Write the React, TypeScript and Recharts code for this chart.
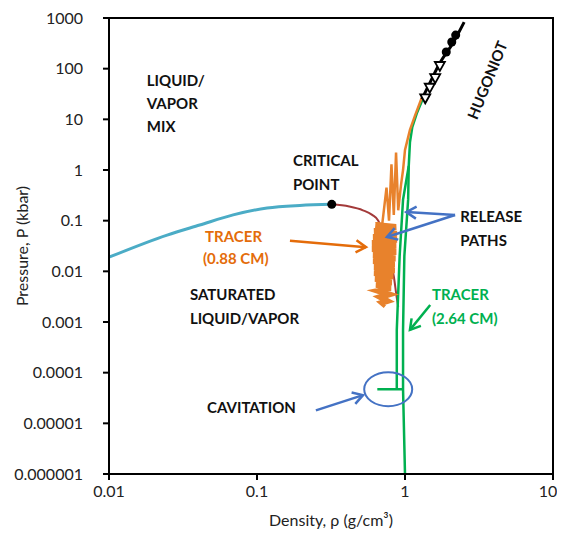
import React from 'react'
import {
  ComposedChart,
  CartesianGrid,
  Line,
  Scatter,
  XAxis,
  YAxis,
  ReferenceDot,
  ReferenceLine,
} from 'recharts'

const FONT = 'Lato, "Liberation Sans", sans-serif'
const PLOT_TOP = 10

const xTicks = [0.01, 0.1, 1, 10]
const xTickLabels = ['0.01', '0.1', '1', '10']
const yTicks = [0.000001, 0.00001, 0.0001, 0.001, 0.01, 0.1, 1, 10, 100, 1000]
const yTickLabels = ['0.000001', '0.00001', '0.0001', '0.001', '0.01', '0.1', '1', '10', '100', '1000']

// saturation dome (vapor side in blue, liquid side in red)
const vaporBranch = [
  { rho: 0.01, p: 0.019 },
  { rho: 0.0247, p: 0.052 },
  { rho: 0.041, p: 0.082 },
  { rho: 0.069, p: 0.13 },
  { rho: 0.117, p: 0.178 },
  { rho: 0.195, p: 0.2 },
  { rho: 0.32, p: 0.21 },
]
const liquidBranch = [
  { rho: 0.32, p: 0.21 },
  { rho: 0.42, p: 0.19 },
  { rho: 0.52, p: 0.16 },
  { rho: 0.6, p: 0.13 },
  { rho: 0.66, p: 0.1 },
  { rho: 0.72, p: 0.05 },
  { rho: 0.78, p: 0.02 },
  { rho: 0.84, p: 0.008 },
  { rho: 0.88, p: 0.003 },
  { rho: 0.9, p: 0.002 },
]
const criticalPoint = [{ rho: 0.32, p: 0.21 }]

// hugoniot
const hugoniotLine = [
  { rho: 1.3, p: 25 },
  { rho: 1.47, p: 52 },
  { rho: 1.72, p: 129 },
  { rho: 2.11, p: 321 },
  { rho: 2.51, p: 830 },
]
const hugoniotTriangles = [
  { rho: 1.37, p: 26 },
  { rho: 1.47, p: 42 },
  { rho: 1.6, p: 65 },
  { rho: 1.72, p: 113 },
]
const hugoniotDots = [
  { rho: 1.9, p: 213 },
  { rho: 2.07, p: 336 },
  { rho: 2.2, p: 460 },
]

// tracer at 0.88 cm
const tracerOrange = [
  { rho: 1.3, p: 27 },
  { rho: 1.17, p: 12 },
  { rho: 1.08, p: 6.2 },
  { rho: 1.0, p: 2.5 },
  { rho: 0.97, p: 1.0 },
  { rho: 0.94, p: 0.51 },
  { rho: 0.9, p: 0.16 },
  { rho: 0.87, p: 2.2 },
  { rho: 0.84, p: 0.13 },
  { rho: 0.81, p: 1.3 },
  { rho: 0.78, p: 0.1 },
  { rho: 0.75, p: 0.45 },
  { rho: 0.7, p: 0.08 },
]
const tracerOrangeBlob = [
  { rho: 0.7, p: 0.08 },
  { rho: 0.63, p: 0.082 },
  { rho: 0.87, p: 0.075 },
  { rho: 0.62, p: 0.0626 },
  { rho: 0.88, p: 0.055 },
  { rho: 0.61, p: 0.0476 },
  { rho: 0.88, p: 0.042 },
  { rho: 0.6, p: 0.0362 },
  { rho: 0.87, p: 0.032 },
  { rho: 0.6, p: 0.0276 },
  { rho: 0.87, p: 0.024 },
  { rho: 0.61, p: 0.021 },
  { rho: 0.86, p: 0.018 },
  { rho: 0.61, p: 0.016 },
  { rho: 0.85, p: 0.014 },
  { rho: 0.62, p: 0.0122 },
  { rho: 0.85, p: 0.0105 },
  { rho: 0.62, p: 0.0093 },
  { rho: 0.83, p: 0.008 },
  { rho: 0.63, p: 0.0071 },
  { rho: 0.81, p: 0.006 },
  { rho: 0.64, p: 0.0054 },
  { rho: 0.8, p: 0.0046 },
  { rho: 0.66, p: 0.0041 },
  { rho: 0.78, p: 0.0035 },
  { rho: 0.68, p: 0.0031 },
  { rho: 0.76, p: 0.0026 },
  { rho: 0.7, p: 0.0024 },
  { rho: 0.74, p: 0.0021 },
]

// tracer at 2.64 cm
const tracerGreenA = [
  { rho: 1.35, p: 30 },
  { rho: 1.2, p: 13 },
  { rho: 1.12, p: 7 },
  { rho: 1.08, p: 3.5 },
  { rho: 1.06, p: 1.2 },
  { rho: 1.05, p: 0.26 },
  { rho: 0.99, p: 0.02 },
  { rho: 0.97, p: 0.0007 },
  { rho: 0.97, p: 0.000047 },
  { rho: 1.0, p: 0.000001 },
]
const tracerGreenB = [
  { rho: 1.06, p: 1.2 },
  { rho: 0.97, p: 0.26 },
  { rho: 0.92, p: 0.02 },
  { rho: 0.88, p: 0.0007 },
  { rho: 0.88, p: 0.000047 },
  { rho: 0.65, p: 0.000047 },
  { rho: 0.97, p: 0.000047 },
]

const labels = [
  { text: 'LIQUID/', rho: 0.018, p: 60, color: '#111' },
  { text: 'VAPOR', rho: 0.018, p: 21, color: '#111' },
  { text: 'MIX', rho: 0.018, p: 7.4, color: '#111' },
  { text: 'CRITICAL', rho: 0.175, p: 1.58, color: '#111' },
  { text: 'POINT', rho: 0.175, p: 0.53, color: '#111' },
  { text: 'TRACER', rho: 0.0446, p: 0.05, color: '#E46C0A' },
  { text: '(0.88 CM)', rho: 0.0431, p: 0.0183, color: '#E46C0A' },
  { text: 'RELEASE', rho: 2.36, p: 0.124, color: '#111' },
  { text: 'PATHS', rho: 2.36, p: 0.0416, color: '#111' },
  { text: 'SATURATED', rho: 0.0352, p: 0.00357, color: '#111' },
  { text: 'LIQUID/VAPOR', rho: 0.0352, p: 0.0012, color: '#111' },
  { text: 'TRACER', rho: 1.52, p: 0.00357, color: '#00B050' },
  { text: '(2.64 CM)', rho: 1.52, p: 0.0012, color: '#00B050' },
  { text: 'CAVITATION', rho: 0.046, p: 0.000021, color: '#111' },
]

const arrows = [
  { from: { x: 0.167, y: 0.04 }, to: { x: 0.545, y: 0.03 }, color: '#E46C0A' },
  { from: { x: 2.18, y: 0.129 }, to: { x: 1.02, y: 0.148 }, color: '#4472C4' },
  { from: { x: 2.18, y: 0.129 }, to: { x: 0.755, y: 0.0477 }, color: '#4472C4' },
  { from: { x: 1.48, y: 0.00217 }, to: { x: 1.08, y: 0.0007 }, color: '#00B050' },
  { from: { x: 0.25, y: 0.000018 }, to: { x: 0.52, y: 0.000036 }, color: '#4472C4' },
]

const arrowShape = (color: string) => (props: any) => {
  const { x1, y1, x2, y2 } = props
  const a = Math.atan2(y2 - y1, x2 - x1)
  const len = 10
  const w = 6
  const bx = x2 - len * Math.cos(a)
  const by = y2 - len * Math.sin(a)
  const pts = `${bx + w * Math.sin(a)},${by - w * Math.cos(a)} ${x2},${y2} ${bx - w * Math.sin(a)},${by + w * Math.cos(a)}`
  return (
    <g>
      <line x1={x1} y1={y1} x2={x2} y2={y2} stroke={color} strokeWidth={2.5} />
      <polyline points={pts} fill="none" stroke={color} strokeWidth={2.5} strokeLinejoin="miter" />
    </g>
  )
}

const triangle = (props: any) => {
  const { cx, cy } = props
  return (
    <polygon
      points={`${cx - 5},${cy - 4} ${cx + 5},${cy - 4} ${cx},${cy + 5}`}
      fill="#fff"
      stroke="#000"
      strokeWidth={1.8}
    />
  )
}

// x tick: keep the last label inside the picture, like the original
const XTick = (props: any) => {
  const { x, y, payload, index } = props
  const shift = index === xTicks.length - 1 ? -5 : 0
  return (
    <text x={x + shift} y={y} dy="0.71em" textAnchor="middle" fill="#222" fontSize={16} fontFamily={FONT}>
      {xTickLabels[xTicks.indexOf(payload.value)] ?? String(payload.value)}
    </text>
  )
}

// x-axis title plus the top and right edges of the plot box
const XTitle = ({ viewBox }: any) => {
  const left = viewBox.x
  const right = viewBox.x + viewBox.width
  const bottom = viewBox.y
  return (
    <g>
      <path
        d={`M${left},${PLOT_TOP} H${right} V${bottom}`}
        fill="none"
        stroke="#000"
        strokeWidth={2}
      />
      <text
        x={left + viewBox.width / 2}
        y={bottom + 52}
        textAnchor="middle"
        fill="#222"
        fontSize={16}
        fontFamily={FONT}
      >
        Density, ρ (g/cm³)
      </text>
    </g>
  )
}

export default function App() {
  return (
    <div style={{ width: 557, height: 524, fontFamily: FONT }}>
      <ComposedChart width={557} height={524} margin={{ top: PLOT_TOP, right: 12, bottom: 8, left: 0 }}>
        <CartesianGrid
          horizontalValues={[1000]}
          verticalValues={[10]}
          stroke="#000"
          strokeWidth={2}
          strokeDasharray=""
        />
        <XAxis
          dataKey="rho"
          type="number"
          scale="log"
          domain={[0.01, 10]}
          allowDataOverflow
          ticks={xTicks}
          height={50}
          tickSize={6}
          tickMargin={6}
          axisLine={{ stroke: '#000', strokeWidth: 2 }}
          tickLine={{ stroke: '#000', strokeWidth: 2 }}
          tick={<XTick />}
          label={{ content: XTitle }}
        />
        <YAxis
          dataKey="p"
          type="number"
          scale="log"
          domain={[0.000001, 1000]}
          allowDataOverflow
          ticks={yTicks}
          tickFormatter={(v: number) => yTickLabels[yTicks.indexOf(v)] ?? String(v)}
          width={101}
          tickSize={6}
          tickMargin={20}
          axisLine={{ stroke: '#000', strokeWidth: 2 }}
          tickLine={{ stroke: '#000', strokeWidth: 2 }}
          tick={{ fill: '#222', fontSize: 16, fontFamily: FONT }}
          label={{
            content: ({ viewBox }: any) => {
              const cx = 13
              const cy = viewBox.y + viewBox.height / 2
              return (
                <text
                  x={cx}
                  y={cy}
                  transform={`rotate(-90 ${cx} ${cy})`}
                  textAnchor="middle"
                  dominantBaseline="central"
                  fill="#222"
                  fontSize={16}
                  fontFamily={FONT}
                >
                  Pressure, P (kbar)
                </text>
              )
            },
          }}
        />

        <Line data={vaporBranch} dataKey="p" type="monotone" stroke="#4BACC6" strokeWidth={3} dot={false} isAnimationActive={false} />
        <Line data={liquidBranch} dataKey="p" type="monotone" stroke="#A33A3A" strokeWidth={2} dot={false} isAnimationActive={false} />
        <Line data={tracerGreenB} dataKey="p" type="linear" stroke="#00B050" strokeWidth={2.5} dot={false} isAnimationActive={false} />
        <Line data={tracerGreenA} dataKey="p" type="linear" stroke="#00B050" strokeWidth={2.5} dot={false} isAnimationActive={false} />
        <Line data={tracerOrange} dataKey="p" type="linear" stroke="#E8822C" strokeWidth={2.5} dot={false} isAnimationActive={false} />
        <Line data={tracerOrangeBlob} dataKey="p" type="linear" stroke="#E8822C" strokeWidth={6} dot={false} isAnimationActive={false} />
        <Line data={hugoniotLine} dataKey="p" type="monotone" stroke="#000" strokeWidth={3} dot={false} isAnimationActive={false} />
        <Scatter data={hugoniotTriangles} dataKey="p" shape={triangle} isAnimationActive={false} />
        <Scatter data={hugoniotDots} dataKey="p" fill="#000" shape="circle" isAnimationActive={false} />
        <Scatter data={criticalPoint} dataKey="p" fill="#000" shape="circle" isAnimationActive={false} />

        <ReferenceDot
          x={0.77}
          y={0.000047}
          r={0}
          shape={(props: any) => (
            <ellipse cx={props.cx} cy={props.cy} rx={24} ry={17} fill="none" stroke="#4472C4" strokeWidth={2} />
          )}
        />
        {arrows.map((a, i) => (
          <ReferenceLine key={`arrow-${i}`} segment={[a.from, a.to]} shape={arrowShape(a.color)} />
        ))}
        {labels.map((l, i) => (
          <ReferenceDot
            key={`label-${i}`}
            x={l.rho}
            y={l.p}
            r={0}
            shape={(props: any) => (
              <text
                x={props.cx}
                y={props.cy}
                dominantBaseline="central"
                fill={l.color}
                fontSize={15}
                fontWeight="bold"
                fontFamily={FONT}
              >
                {l.text}
              </text>
            )}
          />
        ))}
        <ReferenceDot
          x={3.58}
          y={60}
          r={0}
          shape={(props: any) => (
            <text
              x={props.cx}
              y={props.cy}
              transform={`rotate(-68 ${props.cx} ${props.cy})`}
              textAnchor="middle"
              dominantBaseline="central"
              fill="#111"
              fontSize={15}
              fontWeight="bold"
              fontFamily={FONT}
            >
              HUGONIOT
            </text>
          )}
        />
      </ComposedChart>
    </div>
  )
}
